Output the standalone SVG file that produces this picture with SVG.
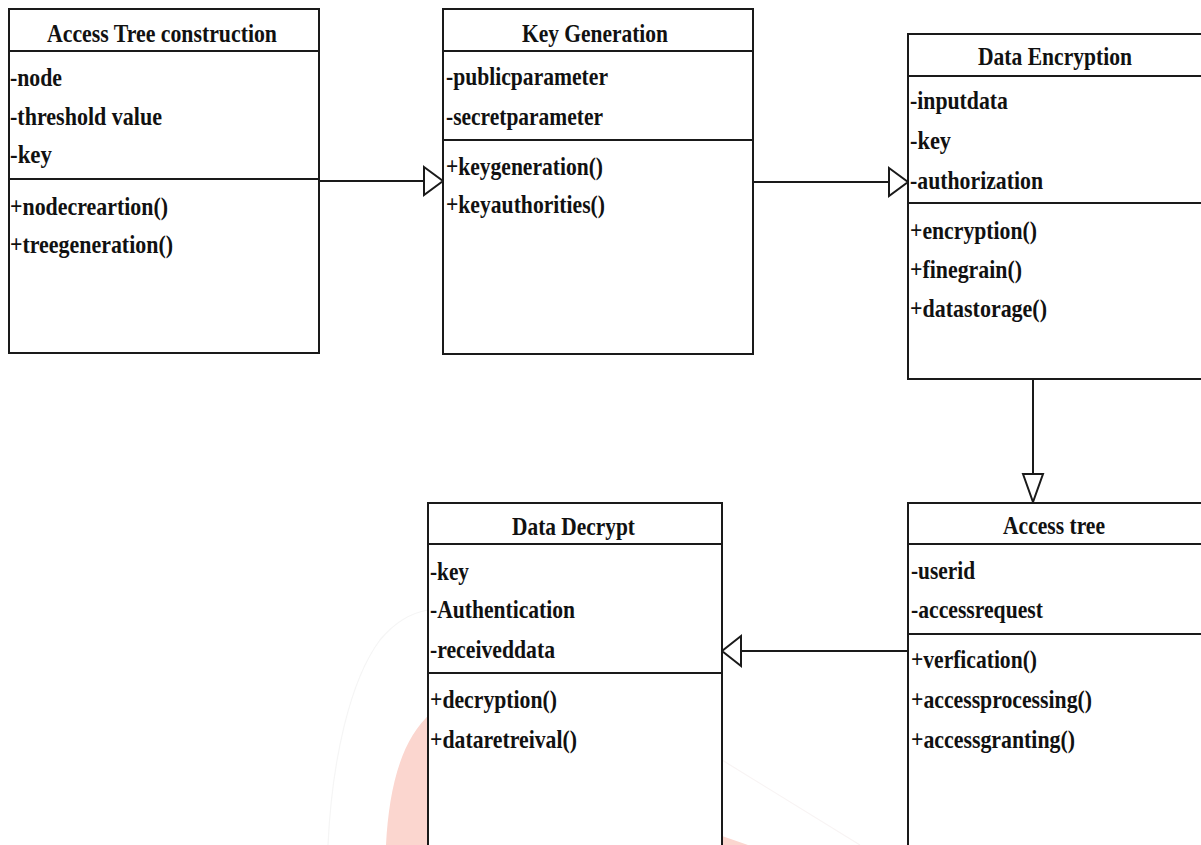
<svg xmlns="http://www.w3.org/2000/svg" width="1201" height="845" viewBox="0 0 1201 845">
<style>
.box{fill:#ffffff;stroke:#1a1a1a;stroke-width:2}
.ln{stroke:#1a1a1a;stroke-width:2;fill:none}
.ah{fill:#ffffff;stroke:#1a1a1a;stroke-width:2;stroke-linejoin:miter}
text{font-family:"Liberation Serif","Times New Roman",serif;font-weight:bold;font-size:26px;fill:#111111}
.t{text-anchor:middle}
</style>
<rect width="1201" height="845" fill="#ffffff"/>
<g id="watermark">
<path d="M386,845 C389,790 400,740 432,712 L700,712 L722,836 L748,845 Z" fill="#fbd6cf"/>
<path d="M328,845 C332,760 350,680 380,640 C395,622 410,613 428,610" fill="none" stroke="#f5f5f5" stroke-width="1.2"/>
<path d="M722,760 L860,845" fill="none" stroke="#f8f4f4" stroke-width="1.2"/>
</g>
<g id="connectors">
<line class="ln" x1="319" y1="181" x2="424" y2="181"/>
<polygon class="ah" points="424,167 443,181 424,195"/>
<line class="ln" x1="753" y1="182" x2="889" y2="182"/>
<polygon class="ah" points="889,168 908,182 889,196"/>
<line class="ln" x1="1033" y1="379" x2="1033" y2="474"/>
<polygon class="ah" points="1023,474 1033,502 1043,474"/>
<line class="ln" x1="908" y1="651" x2="741" y2="651"/>
<polygon class="ah" points="741,636 722,651 741,666"/>
</g>
<g id="access-tree-construction">
<rect class="box" x="9" y="9" width="310" height="344"/>
<line class="ln" x1="9" y1="51" x2="319" y2="51"/>
<line class="ln" x1="9" y1="179" x2="319" y2="179"/>
<text class="t" x="162" y="42" textLength="230" lengthAdjust="spacingAndGlyphs">Access Tree construction</text>
<text x="10" y="86" textLength="52" lengthAdjust="spacingAndGlyphs">-node</text>
<text x="10" y="125" textLength="152" lengthAdjust="spacingAndGlyphs">-threshold value</text>
<text x="10" y="163" textLength="42" lengthAdjust="spacingAndGlyphs">-key</text>
<text x="10" y="215" textLength="158" lengthAdjust="spacingAndGlyphs">+nodecreartion()</text>
<text x="10" y="253" textLength="163" lengthAdjust="spacingAndGlyphs">+treegeneration()</text>
</g>
<g id="key-generation">
<rect class="box" x="443" y="9" width="310" height="345"/>
<line class="ln" x1="443" y1="51" x2="753" y2="51"/>
<line class="ln" x1="443" y1="140" x2="753" y2="140"/>
<text class="t" x="595" y="42" textLength="146" lengthAdjust="spacingAndGlyphs">Key Generation</text>
<text x="446" y="85" textLength="162" lengthAdjust="spacingAndGlyphs">-publicparameter</text>
<text x="446" y="125" textLength="157" lengthAdjust="spacingAndGlyphs">-secretparameter</text>
<text x="446" y="175" textLength="157" lengthAdjust="spacingAndGlyphs">+keygeneration()</text>
<text x="446" y="213" textLength="159" lengthAdjust="spacingAndGlyphs">+keyauthorities()</text>
</g>
<g id="data-encryption">
<rect class="box" x="908" y="34" width="296" height="345"/>
<line class="ln" x1="908" y1="76" x2="1204" y2="76"/>
<line class="ln" x1="908" y1="203" x2="1204" y2="203"/>
<text class="t" x="1055" y="65" textLength="154" lengthAdjust="spacingAndGlyphs">Data Encryption</text>
<text x="910" y="109" textLength="98" lengthAdjust="spacingAndGlyphs">-inputdata</text>
<text x="910" y="149" textLength="41" lengthAdjust="spacingAndGlyphs">-key</text>
<text x="910" y="189" textLength="133" lengthAdjust="spacingAndGlyphs">-authorization</text>
<text x="910" y="239" textLength="127" lengthAdjust="spacingAndGlyphs">+encryption()</text>
<text x="910" y="278" textLength="112" lengthAdjust="spacingAndGlyphs">+finegrain()</text>
<text x="910" y="317" textLength="137" lengthAdjust="spacingAndGlyphs">+datastorage()</text>
</g>
<g id="access-tree">
<rect class="box" x="908" y="503" width="296" height="350"/>
<line class="ln" x1="908" y1="544" x2="1204" y2="544"/>
<line class="ln" x1="908" y1="634" x2="1204" y2="634"/>
<text class="t" x="1054" y="534" textLength="102" lengthAdjust="spacingAndGlyphs">Access tree</text>
<text x="911" y="579" textLength="64" lengthAdjust="spacingAndGlyphs">-userid</text>
<text x="911" y="618" textLength="132" lengthAdjust="spacingAndGlyphs">-accessrequest</text>
<text x="911" y="668" textLength="126" lengthAdjust="spacingAndGlyphs">+verfication()</text>
<text x="911" y="708" textLength="181" lengthAdjust="spacingAndGlyphs">+accessprocessing()</text>
<text x="911" y="748" textLength="164" lengthAdjust="spacingAndGlyphs">+accessgranting()</text>
</g>
<g id="data-decrypt">
<rect class="box" x="428" y="503" width="294" height="350"/>
<line class="ln" x1="428" y1="544" x2="722" y2="544"/>
<line class="ln" x1="428" y1="673" x2="722" y2="673"/>
<text class="t" x="573.5" y="535" textLength="123" lengthAdjust="spacingAndGlyphs">Data Decrypt</text>
<text x="430" y="580" textLength="39" lengthAdjust="spacingAndGlyphs">-key</text>
<text x="430" y="618" textLength="145" lengthAdjust="spacingAndGlyphs">-Authentication</text>
<text x="430" y="658" textLength="125" lengthAdjust="spacingAndGlyphs">-receiveddata</text>
<text x="430" y="708" textLength="127" lengthAdjust="spacingAndGlyphs">+decryption()</text>
<text x="430" y="748" textLength="147" lengthAdjust="spacingAndGlyphs">+dataretreival()</text>
</g>
</svg>
